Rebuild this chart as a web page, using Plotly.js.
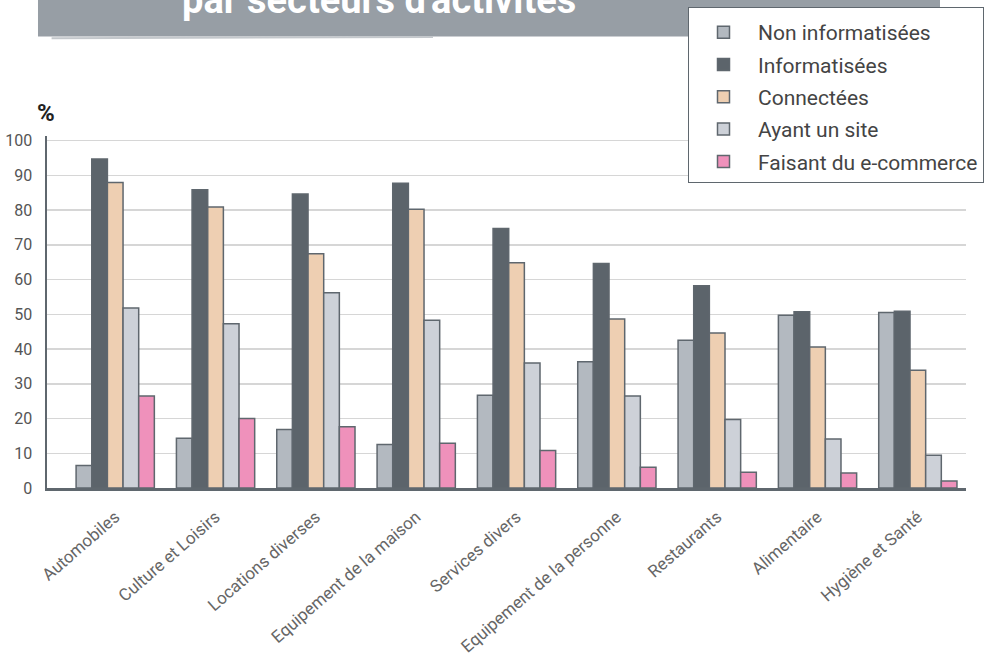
<!DOCTYPE html>
<html>
<head>
<meta charset="utf-8">
<script src="https://cdn.plot.ly/plotly-3.0.1.min.js"></script>
<style>html,body{margin:0;padding:0;background:#fff;}#chart{width:992px;height:658px;}</style>
</head>
<body>
<div id="chart"></div>
<script>
const categories = ["Automobiles", "Culture et Loisirs", "Locations diverses", "Equipement de la maison", "Services divers", "Equipement de la personne", "Restaurants", "Alimentaire", "Hygiène et Santé"];
const seriesNames = ["Non informatisées", "Informatisées", "Connectées", "Ayant un site", "Faisant du e-commerce"];
const nonInformatisees = [6.5, 14.3, 16.8, 12.5, 26.7, 36.3, 42.5, 49.7, 50.5];
const informatisees    = [94.7, 85.8, 84.6, 87.7, 74.7, 64.6, 58.2, 50.7, 50.9];
const connectees       = [87.9, 80.9, 67.4, 80.2, 64.8, 48.6, 44.6, 40.6, 33.9];
const ayantUnSite      = [51.8, 47.3, 56.2, 48.3, 36.0, 26.5, 19.7, 14.1, 9.4];
const eCommerce        = [26.5, 20.0, 17.6, 12.9, 10.8, 6.0, 4.5, 4.3, 2.0];
const yTicks = [0, 10, 20, 30, 40, 50, 60, 70, 80, 90, 100];

const colors = ["#b3b9c0", "#5c646b", "#eecfb2", "#cdd1d8", "#ef91bb"];
const values = [nonInformatisees, informatisees, connectees, ayantUnSite, eCommerce];
const FONT = "Roboto, 'DejaVu Sans', sans-serif";

const traces = values.map((v, i) => ({
  type: "bar",
  name: seriesNames[i],
  x: categories,
  y: v,
  legendgroup: "g" + i,
  marker: { color: colors[i], line: { color: "#5f676e", width: 1.5 } },
  hoverinfo: "x+y+name"
}));

const layout = {
  width: 992,
  height: 658,
  margin: { l: 47, r: 26, t: 136, b: 170, autoexpand: false },
  paper_bgcolor: "#ffffff",
  plot_bgcolor: "#ffffff",
  barmode: "group",
  bargap: 0.22,
  bargroupgap: 0,
  font: { family: FONT, color: "#555" },
  showlegend: true,
  legend: {
    x: 0.6975, y: 1.366, xanchor: "left", yanchor: "top",
    bgcolor: "#ffffff", bordercolor: "#5f676e", borderwidth: 1,
    font: { family: FONT, size: 21, color: "#444" },
    title: { text: " ", font: { size: 3 } },
    tracegroupgap: 2,
    itemwidth: 59
  },
  xaxis: {
    type: "category",
    range: [-0.68, 8.48],
    tickangle: -41,
    tickfont: { family: FONT, size: 17, color: "#666" },
    showgrid: false,
    showline: true, linecolor: "#5f676e", linewidth: 2.5,
    ticks: "outside", ticklen: 10, tickcolor: "rgba(0,0,0,0)", fixedrange: true
  },
  yaxis: {
    range: [0, 101.3],
    tickvals: yTicks,
    ticktext: yTicks.map(String),
    tickfont: { family: FONT, size: 16, color: "#555" },
    showgrid: true, gridcolor: "#d6d6d6", gridwidth: 1.5,
    zeroline: false,
    showline: true, linecolor: "#5f676e", linewidth: 2.5,
    ticks: "outside", ticklen: 9, tickcolor: "rgba(0,0,0,0)",
    fixedrange: true
  },
  shapes: [
    { type: "rect", xref: "paper", yref: "paper", x0: -0.0098, x1: 0.9717, y0: 1.283, y1: 1.42,
      fillcolor: "#979ea5", line: { width: 0 }, layer: "below" },
    { type: "line", xref: "paper", yref: "paper", x0: 0.005, x1: 0.42, y0: 1.278, y1: 1.281,
      line: { color: "#c4c8cc", width: 2 }, layer: "below" }
  ],
  annotations: [
    { text: "<b>par secteurs d'activités</b>", xref: "paper", yref: "paper", x: 0.361, y: 1, xanchor: "center", yanchor: "bottom",
      yshift: 112, showarrow: false, font: { family: FONT, size: 38, color: "#ffffff" } },
    { text: "<b>%</b>", xref: "paper", yref: "paper", x: -0.013, y: 1.065, xanchor: "left", yanchor: "middle",
      showarrow: false, font: { family: FONT, size: 24, color: "#222" } }
  ]
};

Plotly.newPlot("chart", traces, layout, { displayModeBar: false, staticPlot: true });
</script>
</body>
</html>
